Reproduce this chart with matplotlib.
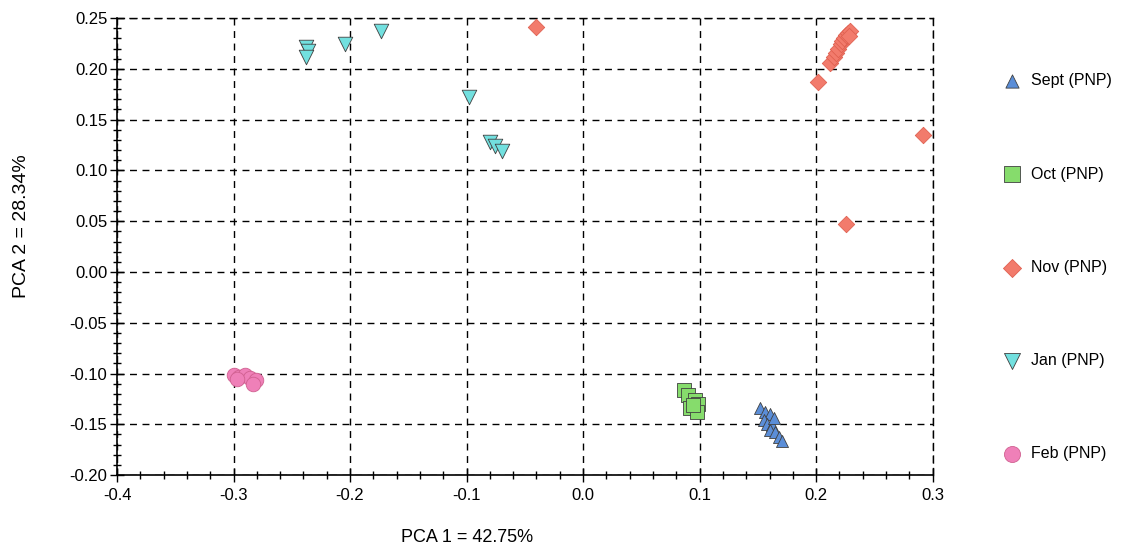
import matplotlib.pyplot as plt
from matplotlib.ticker import MultipleLocator, FormatStrFormatter

plt.rcParams["font.family"] = ["Liberation Sans", "DejaVu Sans"]

# PCA scores
sept_x = [0.152, 0.156, 0.160, 0.155, 0.158, 0.162, 0.160, 0.165, 0.168, 0.171, 0.164]
sept_y = [-0.134, -0.138, -0.140, -0.146, -0.150, -0.151, -0.156, -0.158, -0.162, -0.166, -0.144]

oct_x = [0.087, 0.090, 0.096, 0.099, 0.092, 0.098, 0.094]
oct_y = [-0.116, -0.121, -0.126, -0.130, -0.134, -0.138, -0.131]

nov_x = [-0.040, 0.212, 0.215, 0.217, 0.219, 0.221, 0.222, 0.224, 0.226, 0.227, 0.229, 0.228,
         0.202, 0.292, 0.226]
nov_y = [0.241, 0.206, 0.212, 0.216, 0.220, 0.224, 0.227, 0.230, 0.233, 0.235, 0.237, 0.232,
         0.187, 0.135, 0.047]

jan_x = [-0.238, -0.236, -0.238, -0.204, -0.173, -0.098, -0.080, -0.076, -0.070]
jan_y = [0.222, 0.218, 0.212, 0.224, 0.237, 0.172, 0.128, 0.124, 0.119]

feb_x = [-0.300, -0.295, -0.290, -0.286, -0.281, -0.283, -0.297]
feb_y = [-0.101, -0.103, -0.101, -0.104, -0.106, -0.110, -0.105]

labels = ["Sept (PNP)", "Oct (PNP)", "Nov (PNP)", "Jan (PNP)", "Feb (PNP)"]

fig = plt.figure(figsize=(11.25, 5.48), dpi=100)
ax = fig.add_axes([0.104, 0.133, 0.725, 0.834])

edge = "#404040"
ax.scatter(sept_x, sept_y, marker="^", s=75, color="#5b8ed8", edgecolors=edge, linewidths=0.6,
           label=labels[0], zorder=3)
ax.scatter(oct_x, oct_y, marker="s", s=110, color="#86dc6c", edgecolors=edge, linewidths=0.6,
           label=labels[1], zorder=3)
ax.scatter(nov_x, nov_y, marker="D", s=70, color="#f27b6c", edgecolors="#e06050", linewidths=0.6,
           label=labels[2], zorder=3)
ax.scatter(jan_x, jan_y, marker="v", s=110, color="#72e0df", edgecolors=edge, linewidths=0.6,
           label=labels[3], zorder=3)
ax.scatter(feb_x, feb_y, marker="o", s=110, color="#ef80b8", edgecolors="#d06090", linewidths=0.6,
           label=labels[4], zorder=3)

ax.set_xlim(-0.4, 0.3)
ax.set_ylim(-0.2, 0.25)

ax.xaxis.set_major_locator(MultipleLocator(0.1))
ax.xaxis.set_minor_locator(MultipleLocator(0.02))
ax.yaxis.set_major_locator(MultipleLocator(0.05))
ax.yaxis.set_minor_locator(MultipleLocator(0.01))
ax.xaxis.set_major_formatter(FormatStrFormatter("%.1f"))
ax.yaxis.set_major_formatter(FormatStrFormatter("%.2f"))

ax.tick_params(which="major", direction="inout", length=10, width=1, labelsize=12, colors="black")
ax.tick_params(which="minor", direction="inout", length=6, width=1)
ax.tick_params(axis="x", pad=4)
ax.tick_params(axis="y", pad=2)

ax.grid(True, which="major", linestyle=(0, (5, 4)), color="black", linewidth=1)

for side in ["top", "right"]:
    ax.spines[side].set_linestyle((0, (5, 4)))
    ax.spines[side].set_linewidth(1)
for side in ["left", "bottom"]:
    ax.spines[side].set_linewidth(1.2)

fig.text(0.415, 0.02, "PCA 1 = 42.75%", fontsize=13, ha="center", va="center")
fig.text(0.019, 0.588, "PCA 2 = 28.34%", fontsize=14, rotation=90, ha="center", va="center")

ax.legend(loc="upper left", bbox_to_anchor=(1.077, 0.893), frameon=False, fontsize=11.5,
          labelspacing=4.9, handletextpad=0.5, handlelength=1.3, borderaxespad=0,
          scatterpoints=1, markerscale=1.1)

fig.savefig("out.png", dpi=100)
